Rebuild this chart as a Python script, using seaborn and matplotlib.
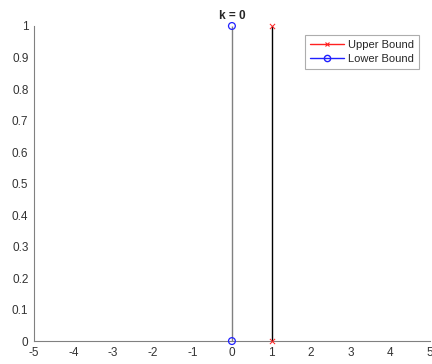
import matplotlib
matplotlib.use("Agg")
import matplotlib.pyplot as plt
from matplotlib.lines import Line2D
import seaborn as sns
import pandas as pd

sns.set_style("white")
plt.rcParams['font.family'] = ['Liberation Sans', 'DejaVu Sans']

# Stem data for k = 0
upper_x = [1]
upper_y = [1]
lower_x = [0]
lower_y = [1]
x_ticks = [-5, -4, -3, -2, -1, 0, 1, 2, 3, 4, 5]
y_ticks = [0, 0.1, 0.2, 0.3, 0.4, 0.5, 0.6, 0.7, 0.8, 0.9, 1]
y_tick_labels = ["0", "0.1", "0.2", "0.3", "0.4", "0.5", "0.6", "0.7", "0.8", "0.9", "1"]

fig = plt.figure(figsize=(4.32, 3.64), dpi=100)
ax = fig.add_axes([0.0787, 0.063, 0.9163, 0.8656])

# stems
ax.vlines(lower_x, 0, lower_y, color="#808080", lw=1.0, zorder=2)
ax.vlines(upper_x, 0, upper_y, color="black", lw=1.0, zorder=2)

# stem heads and bases
lower_df = pd.DataFrame({"x": lower_x * 2, "y": list(lower_y) + [0] * len(lower_x)})
upper_df = pd.DataFrame({"x": upper_x * 2, "y": list(upper_y) + [0] * len(upper_x)})
sns.scatterplot(data=lower_df, x="x", y="y", ax=ax, marker="o", s=24,
                facecolor="none", edgecolor="#2020ff", linewidth=0.9, zorder=4, clip_on=False)
sns.scatterplot(data=upper_df, x="x", y="y", ax=ax, marker="x", s=14,
                color="#ff2020", linewidth=0.7, zorder=4, clip_on=False)

ax.set_xlim(-5, 5)
ax.set_ylim(0, 1)
ax.set_xticks(x_ticks)
ax.set_xticklabels([str(t) for t in x_ticks])
ax.set_yticks(y_ticks)
ax.set_yticklabels(y_tick_labels)
ax.set_xlabel("")
ax.set_ylabel("")

for side in ["top", "right"]:
    ax.spines[side].set_visible(False)
for side in ["left", "bottom"]:
    ax.spines[side].set_color("#808080")
    ax.spines[side].set_linewidth(0.8)
ax.tick_params(axis="both", direction="in", length=3, width=0.8, color="#808080",
               labelsize=8.5, labelcolor="#333333", pad=4)

ax.set_title("k = 0", fontsize=8.5, fontweight="bold", pad=5)

handles = [
    Line2D([], [], color="#ff2020", marker="x", markersize=3.5, markeredgewidth=0.8, lw=1.0, label="Upper Bound"),
    Line2D([], [], color="#2020ff", marker="o", markerfacecolor="none", markersize=4.5, lw=1.0, label="Lower Bound"),
]
leg = ax.legend(handles=handles, loc="upper right", bbox_to_anchor=(0.973, 0.972),
                fontsize=8, frameon=True, fancybox=False, edgecolor="#999999",
                handlelength=3.0, handletextpad=0.35, borderpad=0.5, labelspacing=0.3,
                borderaxespad=0)
leg.get_frame().set_linewidth(0.8)
for t in leg.get_texts():
    t.set_color("#262626")

fig.savefig("out.png", dpi=100)
